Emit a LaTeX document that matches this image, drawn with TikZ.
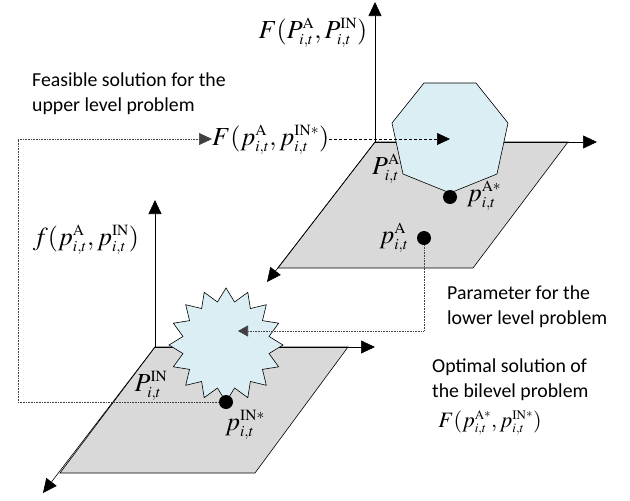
\documentclass[tikz,border=0pt]{standalone}
\usepackage{mathptmx}
\usepackage{fontspec}
\setmainfont{Liberation Serif}
\newfontfamily\labfont{Carlito}
\usetikzlibrary{arrows.meta,shapes.geometric}
\DeclareMathSizes{26}{26}{15.5}{11}
\DeclareMathSizes{22}{22}{13}{9.5}
\newcommand{\upstar}{\raisebox{1.5pt}{$\scriptstyle *$}}
\definecolor{planegray}{HTML}{D9D9D9}
\definecolor{paleblue}{HTML}{DAEEF3}
\tikzset{
  axis/.style={line width=0.6pt,-{Triangle[length=14pt,width=13pt]}},
  plane/.style={draw=black,line width=0.6pt,fill=planegray},
  region/.style={draw=black,line width=0.6pt,fill=paleblue},
  dotline/.style={line width=0.6pt,draw=black!75,dash pattern=on 0.8pt off 0.8pt},
  dashline/.style={line width=0.6pt,dash pattern=on 3pt off 2pt},
  tip/.style={-{Triangle[length=13pt,width=12pt]}},
  smalltip/.style={-{Triangle[length=10pt,width=11pt]}},
  bigdot/.style={circle,fill=black,minimum size=14pt,inner sep=0pt},
  mlab/.style={inner sep=0pt,font=\fontsize{26}{30}\selectfont},
  slab/.style={inner sep=0pt,font=\fontsize{22}{26}\selectfont},
  tlab/.style={inner sep=0pt,align=left,font=\labfont\fontsize{19.8}{24.5}\selectfont}
}
\begin{document}
\begin{tikzpicture}[x=1pt,y=-1pt]
\useasboundingbox (0,0) rectangle (630,501);
% upper plane
\coordinate (uo) at (375,142);
\coordinate (ur) at (568,142);
\coordinate (ubr) at (473,268);
\coordinate (ubl) at (278,268);
\coordinate (uz) at (375,2);
\coordinate (ux) at (597,142);
\coordinate (uy) at (267,282);
\draw[plane] (uo) -- (ur) -- (ubr) -- (ubl) -- cycle;
\draw[axis] (uo) -- (uz);
\draw[axis] (uo) -- (ux);
\draw[axis] (uo) -- (uy);
% lower plane
\coordinate (lo) at (155,347);
\coordinate (lr) at (348,347);
\coordinate (lbr) at (255,473);
\coordinate (lbl) at (60,473);
\coordinate (lz) at (155,200);
\coordinate (lx) at (375,347);
\coordinate (ly) at (43,493);
\draw[plane] (lo) -- (lr) -- (lbr) -- (lbl) -- cycle;
\draw[axis] (lo) -- (lz);
\draw[axis] (lo) -- (lx);
\draw[axis] (lo) -- (ly);
% heptagon feasible region
\draw[region] (424,83) -- (476,83) -- (508,123) -- (497,174) -- (450,193) -- (403,174) -- (392,123) -- cycle;
% star feasible region
\node[star,star points=16,star point ratio=1.3,minimum size=114pt,inner sep=0pt,region] (star) at (226,345) {};
% labels
\node[mlab] (Ftop) at (313,33) {$F(P^{\mathrm{A}}_{i,t},P^{\mathrm{IN}}_{i,t})$};
\node[mlab,anchor=west] (Fmid) at (212,140) {$F(p^{\mathrm{A}}_{i,t},p^{\mathrm{IN}\upstar}_{i,t})$};
\node[mlab] (flow) at (86,240) {$f(p^{\mathrm{A}}_{i,t},p^{\mathrm{IN}}_{i,t})$};
\node[slab] (Fopt) at (490,423) {$F(p^{\mathrm{A}\upstar}_{i,t},p^{\mathrm{IN}\upstar}_{i,t})$};
\node[mlab] (PA) at (386,169) {$P^{\mathrm{A}}_{i,t}$};
\node[mlab] (pAs) at (484,196) {$p^{\mathrm{A}\upstar}_{i,t}$};
\node[mlab] (pAlab) at (394,238) {$p^{\mathrm{A}}_{i,t}$};
\node[mlab] (PIN) at (151,386) {$P^{\mathrm{IN}}_{i,t}$};
\node[mlab] (pINslab) at (245,425) {$p^{\mathrm{IN}\upstar}_{i,t}$};
\node[tlab,anchor=north west] (t1) at (32,73) {Feasible solution for the\\upper level problem};
\node[tlab,anchor=north west] (t2) at (447,286) {Parameter for the\\lower level problem};
\node[tlab,anchor=north west] (t3) at (432,359) {Optimal solution of\\the bilevel problem};
% dots
\node[bigdot] (dAs) at (450,197) {};
\node[bigdot] (dA) at (424,238) {};
\node[bigdot] (dINs) at (226,402) {};
% connectors
\coordinate (c1) at (18,402);
\coordinate (c2) at (18,139);
\coordinate (hin) at (450,139);
\coordinate (sin) at (238,331);
\draw[dotline,tip] (dINs) -- (c1) -- (c2) -- (c2 -| Fmid.west);
\draw[dashline,tip] (Fmid.east |- hin) -- (hin);
\draw[dotline,smalltip] (dA) |- (sin);
\end{tikzpicture}
\end{document}
